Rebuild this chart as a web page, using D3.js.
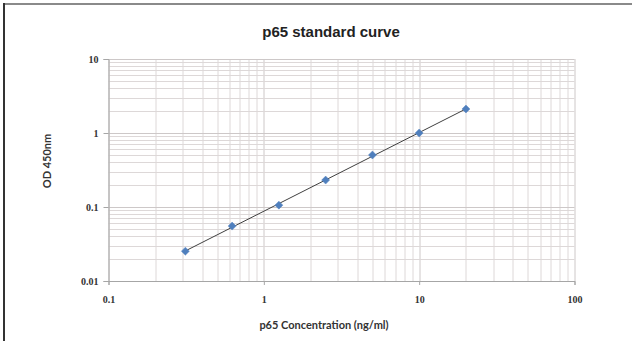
<!DOCTYPE html>
<html>
<head>
<meta charset="utf-8">
<script src="https://cdn.jsdelivr.net/npm/d3@7"></script>
<style>
  html, body { margin: 0; padding: 0; background: #fff; }
  svg { display: block; }
</style>
</head>
<body>
<div id="chart"></div>
<script>
// standard curve data (ng/ml vs OD 450nm)
const concentrations = [0.3125, 0.625, 1.25, 2.5, 5, 10, 20];
const odValues = [0.0253, 0.0552, 0.106, 0.231, 0.504, 1.0, 2.11];

const xTickValues = [0.1, 1, 10, 100];
const xTickLabels = ['0.1', '1', '10', '100'];
const yTickValues = [0.01, 0.1, 1, 10];
const yTickLabels = ['0.01', '0.1', '1', '10'];

const chartTitle = 'p65 standard curve';
const xTitle = 'p65 Concentration (ng/ml)';
const yTitle = 'OD 450nm';

const width = 632;
const height = 341;
const margin = { top: 59, right: 57.5, bottom: 60, left: 108.5 };
const plotWidth = width - margin.left - margin.right;
const plotHeight = height - margin.top - margin.bottom;

const svg = d3.select('#chart')
  .append('svg')
  .attr('width', width)
  .attr('height', height);

// outer frame (top + left edges visible)
svg.append('line')
  .attr('x1', 3).attr('x2', width)
  .attr('y1', 4).attr('y2', 4)
  .style('stroke', '#8a8a8a')
  .style('stroke-width', 2);
svg.append('line')
  .attr('x1', 4).attr('x2', 4)
  .attr('y1', 3).attr('y2', height)
  .style('stroke', '#333')
  .style('stroke-width', 2);

const x = d3.scaleLog().domain([0.1, 100]).range([0, plotWidth]);
const y = d3.scaleLog().domain([0.01, 10]).range([plotHeight, 0]);

const plot = svg.append('g')
  .attr('transform', `translate(${margin.left},${margin.top})`);

// grid lines: minor and major on both axes
const xGrid = x.ticks();
const yGrid = y.ticks();

plot.append('g')
  .selectAll('line')
  .data(xGrid)
  .enter()
  .append('line')
  .attr('x1', d => Math.round(x(d)) + 0.5)
  .attr('x2', d => Math.round(x(d)) + 0.5)
  .attr('y1', 0)
  .attr('y2', plotHeight)
  .style('stroke', d => xTickValues.includes(d) ? '#cdc8c8' : '#ddd8d8')
  .style('stroke-width', 1);

plot.append('g')
  .selectAll('line')
  .data(yGrid)
  .enter()
  .append('line')
  .attr('x1', 0)
  .attr('x2', plotWidth)
  .attr('y1', d => Math.round(y(d)) + 0.5)
  .attr('y2', d => Math.round(y(d)) + 0.5)
  .style('stroke', d => yTickValues.includes(d) ? '#cdc8c8' : '#ddd8d8')
  .style('stroke-width', 1);

// axes
const xAxis = d3.axisBottom(x)
  .tickValues(xTickValues)
  .tickSize(4)
  .tickFormat((d, i) => xTickLabels[i]);
const yAxis = d3.axisLeft(y)
  .tickValues(yTickValues)
  .tickSize(5)
  .tickFormat((d, i) => yTickLabels[i]);

const gx = plot.append('g')
  .attr('transform', `translate(0,${plotHeight})`)
  .call(xAxis);
const gy = plot.append('g').call(yAxis);

[gx, gy].forEach(g => {
  g.select('.domain').style('stroke', '#a6a6a6');
  g.selectAll('.tick line').style('stroke', '#a6a6a6');
  g.selectAll('.tick text')
    .style('font-family', '"Liberation Serif", serif')
    .style('font-weight', 'bold')
    .style('font-size', '10px')
    .style('fill', '#333');
});
gx.selectAll('.tick text').attr('dy', '1.5em');
gy.selectAll('.tick text').attr('x', -10);

// power trend line fitted in log-log space
const lx = concentrations.map(Math.log10);
const ly = odValues.map(Math.log10);
const mx = d3.mean(lx), my = d3.mean(ly);
const slope = d3.sum(lx, (v, i) => (v - mx) * (ly[i] - my)) / d3.sum(lx, v => (v - mx) ** 2);
const icpt = my - slope * mx;
const fit = c => Math.pow(10, icpt + slope * Math.log10(c));
const trendX = d3.extent(concentrations);

plot.append('line')
  .attr('x1', x(trendX[0])).attr('y1', y(fit(trendX[0])))
  .attr('x2', x(trendX[1])).attr('y2', y(fit(trendX[1])))
  .style('stroke', '#404040')
  .style('stroke-width', 1);

// points
plot.append('g')
  .selectAll('path')
  .data(concentrations)
  .enter()
  .append('path')
  .attr('transform', (d, i) => `translate(${x(d)},${y(odValues[i])})`)
  .attr('d', 'M0,-4L4,0L0,4L-4,0Z')
  .style('fill', '#4f7fbd')
  .style('stroke', '#5a86c0')
  .style('stroke-width', 0.5);

// titles
svg.append('text')
  .attr('x', 331)
  .attr('y', 37)
  .attr('text-anchor', 'middle')
  .style('font-family', '"Liberation Sans", Arial, sans-serif')
  .style('font-weight', 'bold')
  .style('font-size', '15px')
  .style('fill', '#222')
  .text(chartTitle);

svg.append('text')
  .attr('x', 324)
  .attr('y', 329)
  .attr('text-anchor', 'middle')
  .style('font-family', 'Lato, "Open Sans", sans-serif')
  .style('font-weight', 'bold')
  .style('font-size', '11px')
  .style('fill', '#333')
  .text(xTitle);

svg.append('text')
  .attr('transform', 'rotate(-90)')
  .attr('x', -161)
  .attr('y', 51)
  .attr('text-anchor', 'middle')
  .style('font-family', 'Lato, "Open Sans", sans-serif')
  .style('font-weight', 'bold')
  .style('font-size', '11px')
  .style('fill', '#333')
  .text(yTitle);
</script>
</body>
</html>
